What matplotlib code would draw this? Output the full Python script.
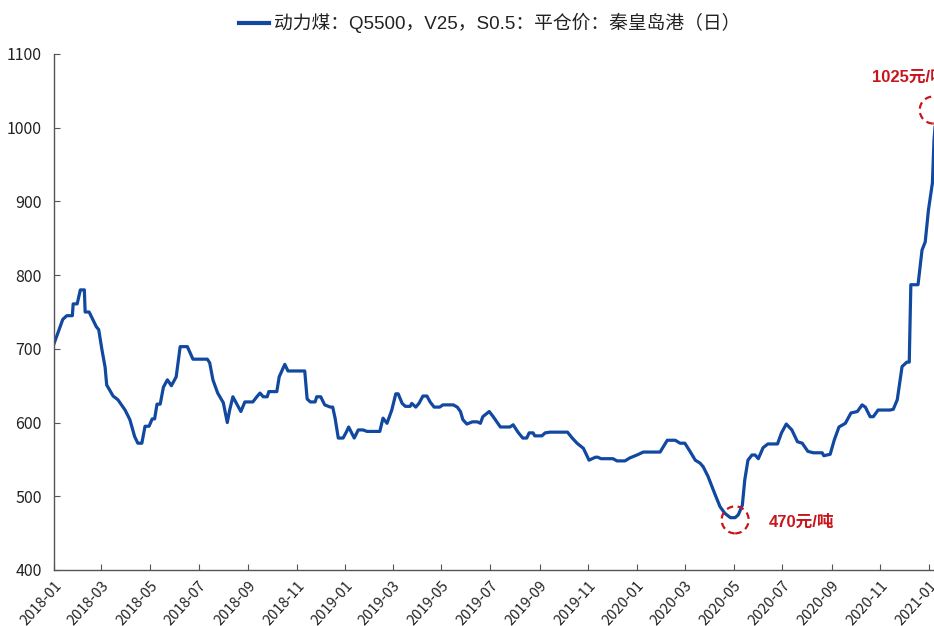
import matplotlib
matplotlib.use("Agg")
import matplotlib.pyplot as plt
import matplotlib.dates as mdates
import matplotlib.transforms as mtransforms
from matplotlib.patches import Circle
import pandas as pd

plt.rcParams['font.family'] = ['Liberation Sans Narrow', 'Noto Sans CJK SC', 'DejaVu Sans']

dates = [
    "2018-01-01", "2018-01-12", "2018-01-17", "2018-01-24", "2018-01-25", "2018-01-30",
    "2018-02-03", "2018-02-08", "2018-02-09", "2018-02-14", "2018-02-23", "2018-02-26",
    "2018-03-02", "2018-03-06", "2018-03-08", "2018-03-16", "2018-03-22", "2018-03-31",
    "2018-04-06", "2018-04-12", "2018-04-16", "2018-04-21", "2018-04-25", "2018-04-30",
    "2018-05-04", "2018-05-07", "2018-05-10", "2018-05-14", "2018-05-18", "2018-05-23",
    "2018-05-28", "2018-06-03", "2018-06-08", "2018-06-17", "2018-06-24", "2018-07-12",
    "2018-07-15", "2018-07-19", "2018-07-25", "2018-08-01", "2018-08-06", "2018-08-09",
    "2018-08-13", "2018-08-18", "2018-08-23", "2018-08-28", "2018-09-07", "2018-09-12",
    "2018-09-16", "2018-09-20", "2018-09-25", "2018-09-27", "2018-10-07", "2018-10-10",
    "2018-10-17", "2018-10-21", "2018-11-11", "2018-11-14", "2018-11-18", "2018-11-24",
    "2018-11-26", "2018-12-01", "2018-12-06", "2018-12-13", "2018-12-16", "2018-12-19",
    "2018-12-23", "2018-12-29", "2019-01-02", "2019-01-05", "2019-01-12", "2019-01-17",
    "2019-01-23", "2019-01-28", "2019-02-13", "2019-02-17", "2019-02-22", "2019-02-28",
    "2019-03-05", "2019-03-08", "2019-03-13", "2019-03-17", "2019-03-23", "2019-03-25",
    "2019-03-30", "2019-04-03", "2019-04-08", "2019-04-13", "2019-04-17", "2019-04-22",
    "2019-04-29", "2019-05-03", "2019-05-16", "2019-05-21", "2019-05-25", "2019-05-28",
    "2019-06-02", "2019-06-09", "2019-06-15", "2019-06-19", "2019-06-22", "2019-06-30",
    "2019-07-05", "2019-07-14", "2019-07-26", "2019-07-30", "2019-08-05", "2019-08-11",
    "2019-08-16", "2019-08-19", "2019-08-24", "2019-08-26", "2019-09-04", "2019-09-08",
    "2019-09-14", "2019-10-06", "2019-10-12", "2019-10-18", "2019-10-26", "2019-10-29",
    "2019-11-02", "2019-11-10", "2019-11-13", "2019-11-17", "2019-12-02", "2019-12-07",
    "2019-12-17", "2019-12-23", "2020-01-01", "2020-01-09", "2020-01-30", "2020-02-03",
    "2020-02-08", "2020-02-18", "2020-02-24", "2020-03-01", "2020-03-08", "2020-03-14",
    "2020-03-20", "2020-03-24", "2020-03-30", "2020-04-08", "2020-04-14", "2020-04-20",
    "2020-04-27", "2020-05-03", "2020-05-07", "2020-05-12", "2020-05-15", "2020-05-19",
    "2020-05-24", "2020-05-28", "2020-06-01", "2020-06-07", "2020-06-13", "2020-06-25",
    "2020-06-30", "2020-07-06", "2020-07-13", "2020-07-20", "2020-07-26", "2020-08-02",
    "2020-08-09", "2020-08-20", "2020-08-22", "2020-08-30", "2020-09-04", "2020-09-10",
    "2020-09-18", "2020-09-25", "2020-10-03", "2020-10-09", "2020-10-13", "2020-10-19",
    "2020-10-23", "2020-10-29", "2020-11-13", "2020-11-17", "2020-11-22", "2020-11-28",
    "2020-12-04", "2020-12-07", "2020-12-09", "2020-12-18", "2020-12-23", "2020-12-27",
    "2020-12-31", "2021-01-05", "2021-01-07", "2021-01-10",
]
prices = [
    707, 740, 745, 745, 761, 761,
    780, 780, 750, 750, 730, 726,
    699, 675, 651, 636, 631, 617,
    604, 581, 572, 572, 595, 595,
    605, 605, 625, 625, 648, 658,
    650, 662, 703, 703, 686, 686,
    681, 658, 640, 627, 600, 617,
    635, 625, 615, 628, 628, 635,
    640, 635, 635, 642, 642, 662,
    679, 670, 670, 632, 628, 628,
    635, 635, 624, 621, 621, 606,
    579, 579, 587, 594, 579, 590,
    590, 588, 588, 606, 599, 617,
    639, 639, 626, 622, 622, 626,
    621, 626, 636, 636, 628, 621,
    621, 624, 624, 621, 615, 604,
    598, 601, 601, 599, 608, 615,
    608, 594, 594, 597, 587, 579,
    579, 586, 586, 582, 582, 586,
    587, 587, 579, 572, 565, 558,
    549, 553, 553, 551, 551, 548,
    548, 552, 556, 560, 560, 567,
    576, 576, 572, 572, 560, 549,
    545, 540, 527, 502, 486, 477,
    471, 471, 475, 488, 522, 549,
    556, 556, 551, 566, 571, 571,
    586, 598, 590, 574, 572, 561,
    559, 559, 555, 557, 576, 594,
    599, 613, 615, 624, 621, 608,
    608, 617, 617, 618, 631, 676,
    682, 682, 787, 787, 834, 845,
    888, 925, 983, 1025,
]

y_ticks = [400, 500, 600, 700, 800, 900, 1000, 1100]
series_label = "动力煤：Q5500，V25，S0.5：平仓价：秦皇岛港（日）"
low_label = "470元/吨"
high_label = "1025元/吨"
low_point = ("2020-05-03", 468)
high_point = ("2021-01-06", 1024)

x = pd.to_datetime(dates)

fig = plt.figure(figsize=(9.34, 6.26), dpi=100)
ax = fig.add_axes([54 / 934, 56 / 626, 880 / 934, 516 / 626])

line_color = "#1148A0"
red = "#C8161D"

ax.plot(x, prices, color=line_color, lw=2.3, solid_joinstyle="round",
        label=series_label, clip_on=True)

ax.set_xlim(pd.Timestamp("2018-01-01"), pd.Timestamp("2021-01-07"))
ax.set_ylim(400, 1100)
ax.set_yticks(y_ticks)
ax.xaxis.set_major_locator(mdates.MonthLocator(bymonth=[1, 3, 5, 7, 9, 11]))
ax.xaxis.set_major_formatter(mdates.DateFormatter("%Y-%m"))

for s in ["top", "right"]:
    ax.spines[s].set_visible(False)
for s in ["left", "bottom"]:
    ax.spines[s].set_color("#555555")
    ax.spines[s].set_linewidth(1.0)

ax.tick_params(axis="both", direction="in", length=4, color="#555555",
               labelcolor="#222222")
ax.tick_params(axis="y", pad=9, labelsize=11.5)
ax.tick_params(axis="x", pad=6, labelsize=10.5)
for lab in ax.get_xticklabels():
    lab.set_rotation(48)
    lab.set_ha("right")
    lab.set_rotation_mode("anchor")

leg = ax.legend(loc="center", bbox_to_anchor=(0.495, 1.06), frameon=False,
                prop={"family": ["Liberation Sans", "Noto Sans CJK SC", "DejaVu Sans"],
                      "size": 13.5},
                handlelength=1.6, handletextpad=0.25)
for t in leg.get_texts():
    t.set_color("#222222")
for h in leg.get_lines():
    h.set_linewidth(3.0)

# dashed circles around the low and the latest high
for (d, v) in [low_point, high_point]:
    trans = fig.dpi_scale_trans + mtransforms.ScaledTranslation(
        mdates.date2num(pd.Timestamp(d)), v, ax.transData)
    c = Circle((0, 0), 0.135, transform=trans, fill=False, edgecolor=red,
               linestyle=(0, (3, 2)), lw=1.6, clip_on=False)
    fig.add_artist(c)

ax.annotate(low_label, xy=(mdates.date2num(pd.Timestamp(low_point[0])), low_point[1]),
            xytext=(24, -1.5), textcoords="offset points", color=red,
            fontsize=12, fontweight="bold", va="center", ha="left",
            family=["Liberation Sans", "Noto Sans CJK SC", "DejaVu Sans"])
ax.annotate(high_label, xy=(mdates.date2num(pd.Timestamp(high_point[0])), high_point[1]),
            xytext=(-44, 24), textcoords="offset points", color=red,
            fontsize=12, fontweight="bold", va="center", ha="left",
            family=["Liberation Sans", "Noto Sans CJK SC", "DejaVu Sans"],
            annotation_clip=False)

fig.savefig("out.png", dpi=100)
